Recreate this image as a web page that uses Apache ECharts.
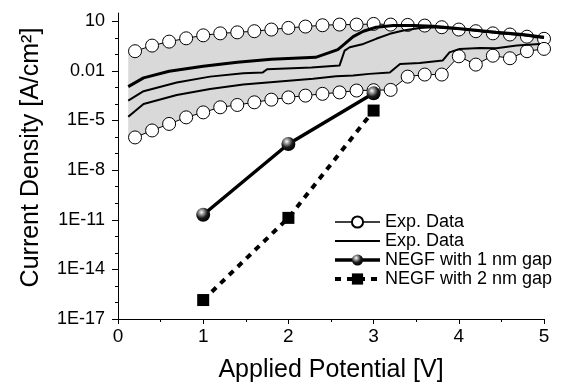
<!DOCTYPE html>
<html><head><meta charset="utf-8">
<script src="https://cdn.jsdelivr.net/npm/echarts@6/dist/echarts.min.js"></script>
<style>html,body{margin:0;padding:0;background:#fff}#c{width:564px;height:389px}</style>
</head><body><div id="c"></div>
<script>
// ---- data (current density in A/cm^2, potential in V) ----
const circleX = [0.2,0.4,0.6,0.8,1.0,1.2,1.4,1.6,1.8,2.0,2.2,2.4,2.6,2.8,3.0,3.2,3.4,3.6,3.8,4.0,4.2,4.4,4.6,4.8,5.0];
const upperCircles = [0.155,0.339,0.589,0.933,1.41,1.86,2.14,2.51,3.16,3.98,4.79,5.75,6.31,6.31,6.92,6.31,6.03,5.50,4.37,3.16,2.51,1.86,1.58,1.17,0.871];
const lowerCircles = [9.5e-7,2.5e-6,6.2e-6,1.55e-5,3.1e-5,6.3e-5,8.7e-5,1.26e-4,1.82e-4,2.5e-4,3.2e-4,4.1e-4,5.0e-4,6.5e-4,6.8e-4,7.1e-4,4.5e-3,6.0e-3,6.0e-3,7.6e-2,2.4e-2,8.3e-2,5.8e-2,0.155,0.214];
const bandStart = {x: 0.12, upper: 0.132, lower: 7.9e-7};

const topLineX = [0.12,0.3,0.6,1.0,1.4,1.8,2.32,2.58,2.66,2.76,2.88,3.03,3.23,3.46,3.70,4.05,4.44,4.75,5.0];
const topLineY = [1.12e-3,3.8e-3,9.5e-3,1.9e-2,3.3e-2,5.0e-2,6.6e-2,0.195,0.427,1.17,2.51,4.37,5.50,5.50,5.01,3.47,2.14,1.58,1.07];
const midLineX = [0.12,0.3,0.69,1.08,1.47,1.70,1.75,2.27,2.60,2.66,2.72,2.88,3.03,3.19,3.35,3.54,3.70,4.05,4.44,4.75,5.0];
const midLineY = [1.58e-4,5.9e-4,2.0e-3,4.5e-3,7.1e-3,8.1e-3,1.26e-2,1.58e-2,2.1e-2,0.17,0.27,0.427,0.87,1.74,2.75,3.98,4.37,3.16,1.95,1.45,0.98];
const lowLineX = [0.12,0.3,0.69,1.08,1.47,1.86,2.29,2.56,2.76,2.95,3.19,3.31,3.54,3.81,3.89,4.01,4.25,4.44,4.68,4.95];
const lowLineY = [1.7e-5,1.0e-4,3.5e-4,8.1e-4,1.48e-3,2.24e-3,3.3e-3,4.7e-3,5.2e-3,6.6e-3,8.1e-3,2.6e-2,3.0e-2,4.2e-2,0.132,0.214,0.245,0.234,0.339,0.427];

const negfX = [1, 2, 3];
const negf1nm = [2.0e-11, 3.8e-7, 4.4e-4];
const negf2nm = [1.4e-16, 1.3e-11, 4.0e-5];

const yTickValues = [1e-17, 1e-14, 1e-11, 1e-8, 1e-5, 0.01, 10];
const yTickLabels = ['1E-17', '1E-14', '1E-11', '1E-8', '1E-5', '0.01', '10'];
const yMinorValues = [1e-16,1e-15,1e-13,1e-12,1e-10,1e-9,1e-7,1e-6,1e-4,1e-3,0.1,1];
const legendLabels = {expCircle: 'Exp. Data', expLine: 'Exp. Data', negf1: 'NEGF with 1 nm gap', negf2: 'NEGF with 2 nm gap'};

// ---- build ----
const zip = (xs, ys) => xs.map((x, i) => [x, ys[i]]);
const bandXs = [bandStart.x].concat(circleX);
const bandLo = [bandStart.lower].concat(lowerCircles);
const bandHi = [bandStart.upper].concat(upperCircles);

const FONT = 'Liberation Sans, Arial, sans-serif';
const sphere = {type: 'radial', x: 0.38, y: 0.32, r: 0.7, colorStops: [
  {offset: 0, color: '#ffffff'}, {offset: 0.25, color: '#9a9a9a'}, {offset: 0.6, color: '#1a1a1a'}, {offset: 1, color: '#000000'}]};

const circleSeries = (name, ys) => ({
  name, type: 'line', data: zip(circleX, ys), symbol: 'circle', symbolSize: 13, showSymbol: true,
  itemStyle: {color: '#ffffff', borderColor: '#000', borderWidth: 1},
  lineStyle: {color: '#000', width: 1}, z: 3
});
const plainLine = (name, xs, ys, w) => ({
  name, type: 'line', data: zip(xs, ys), symbol: 'none', showSymbol: false,
  itemStyle: {color: '#000'}, lineStyle: {color: '#000', width: w}, z: 4
});

const chart = echarts.init(document.getElementById('c'));
chart.setOption({
  animation: false,
  textStyle: {fontFamily: FONT},
  grid: {left: 118, right: 20, top: 13, bottom: 70},
  legend: {
    orient: 'vertical', left: 328, top: 208, itemWidth: 45, itemHeight: 14, itemGap: 1,
    data: [
      {name: 'expCircle', lineStyle: {width: 1.5}},
      {name: 'expLine', itemStyle: {opacity: 0}, lineStyle: {width: 2}},
      {name: 'negf1', lineStyle: {width: 3.5}},
      {name: 'negf2', lineStyle: {width: 4}}
    ],
    formatter: n => legendLabels[n],
    textStyle: {fontSize: 18, color: '#000', fontFamily: FONT}
  },
  xAxis: {
    type: 'value', min: 0, max: 5, interval: 1,
    name: 'Applied Potential [V]', nameLocation: 'middle', nameGap: 39,
    nameTextStyle: {fontSize: 25, color: '#000', fontFamily: FONT},
    axisLine: {lineStyle: {color: '#000', width: 1}},
    axisTick: {inside: false, length: 5, lineStyle: {color: '#000'}},
    minorTick: {show: true, splitNumber: 2, length: 3, lineStyle: {color: '#000'}},
    axisLabel: {fontSize: 19, color: '#000', margin: 8, fontFamily: FONT},
    splitLine: {show: false}
  },
  yAxis: [{
    type: 'log', logBase: 10, min: 1e-17, max: Math.pow(10, 1.5),
    name: 'Current Density [A/cm²]', nameLocation: 'middle', nameGap: 74,
    nameTextStyle: {fontSize: 25, color: '#000', fontFamily: FONT, padding: [0, 0, 0, 17]},
    axisLine: {show: true, lineStyle: {color: '#000', width: 1}},
    axisTick: {show: true, length: 6, lineStyle: {color: '#000'}, customValues: yTickValues},
    axisLabel: {fontSize: 18, color: '#000', margin: 13, fontFamily: FONT, customValues: yTickValues,
      formatter: v => { const i = yTickValues.findIndex(t => Math.abs(Math.log10(t) - Math.log10(v)) < 1e-6); return i >= 0 ? yTickLabels[i] : ''; }},
    splitLine: {show: false}
  }, {
    type: 'log', logBase: 10, min: 1e-17, max: Math.pow(10, 1.5), position: 'left',
    axisLine: {show: false}, axisLabel: {show: false}, splitLine: {show: false},
    axisTick: {show: true, length: 3, lineStyle: {color: '#000'}, customValues: yMinorValues}
  }],
  series: [
    {name: 'band', type: 'custom', silent: true, z: 1,
      data: [[bandXs[0], bandLo[0]]],
      renderItem: (params, api) => {
        const pts = [];
        bandXs.forEach((x, i) => pts.push(api.coord([x, bandHi[i]])));
        for (let i = bandXs.length - 1; i >= 0; i--) pts.push(api.coord([bandXs[i], bandLo[i]]));
        return {type: 'polygon', shape: {points: pts}, style: {fill: '#d9d9d9', stroke: null}};
      }},
    circleSeries('expCircle', upperCircles),
    circleSeries('expCircle2', lowerCircles),
    plainLine('expLineTop', topLineX, topLineY, 3),
    plainLine('expLine', midLineX, midLineY, 2),
    plainLine('expLineLow', lowLineX, lowLineY, 2),
    {name: 'negf1', type: 'line', data: zip(negfX, negf1nm), symbol: 'circle', symbolSize: 14,
      itemStyle: {color: sphere, borderWidth: 0}, lineStyle: {color: '#000', width: 3.5}, z: 6},
    {name: 'negf2', type: 'line', data: zip(negfX, negf2nm), symbol: 'rect', symbolSize: 12,
      itemStyle: {color: '#000'}, lineStyle: {color: '#000', width: 4, type: [6, 6]}, z: 6}
  ]
});
</script>
</body></html>
